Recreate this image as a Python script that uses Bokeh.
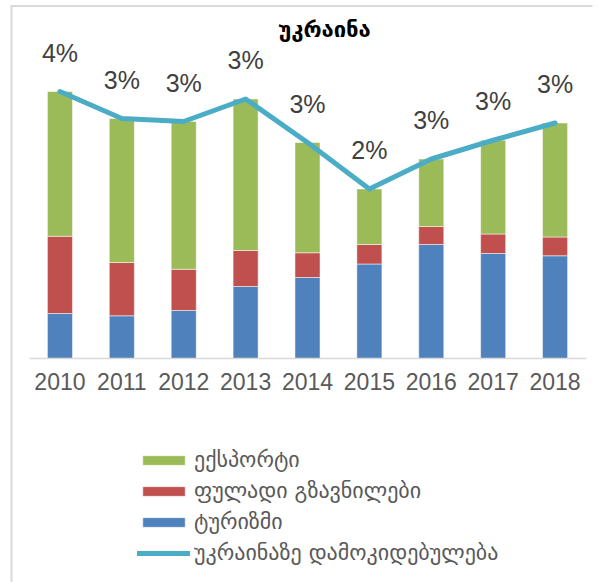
from bokeh.plotting import figure
from bokeh.models import (Range1d, Label, Legend, LegendItem, ColumnDataSource,
                          BoxAnnotation, LinearAxis, FixedTicker)
from bokeh.core.properties import value
from bokeh.embed import file_html
from bokeh.resources import INLINE

# ---- data (share of GDP, %) ----
years = ["2010", "2011", "2012", "2013", "2014", "2015", "2016", "2017", "2018"]
tourism = [0.60, 0.57, 0.64, 0.96, 1.08, 1.26, 1.52, 1.40, 1.37]
remittances = [1.03, 0.71, 0.55, 0.48, 0.33, 0.26, 0.24, 0.26, 0.25]
exports = [1.93, 1.92, 1.97, 2.02, 1.47, 0.74, 0.90, 1.25, 1.52]
pct_labels = ["4%", "3%", "3%", "3%", "3%", "2%", "3%", "3%", "3%"]

title_text = "უკრაინა"
series_names = ["ექსპორტი", "ფულადი გზავნილები", "ტურიზმი", "უკრაინაზე დამოკიდებულება"]

BLUE, RED, GREEN, CYAN = "#4F81BD", "#C0504D", "#9BBB59", "#4BACC6"

xs = list(range(len(years)))
dependence = [round(a + b + c, 2) for a, b, c in zip(tourism, remittances, exports)]

source = ColumnDataSource(dict(x=xs, tourism=tourism, remittances=remittances,
                               exports=exports, dependence=dependence, pct=pct_labels))

# ---- canvas geometry (frame covers the whole canvas) ----
W, H = 601, 582
X_UNIT = 557 / 9.0          # px per category
FIRST_CENTER = 28.5 + X_UNIT / 2
BASE_Y = 358.0              # baseline px from top
Y_UNIT = 75.0               # px per percentage point

x_start = -FIRST_CENTER / X_UNIT
x_end = x_start + W / X_UNIT
y_start = -(H - BASE_Y) / Y_UNIT
y_end = BASE_Y / Y_UNIT


def dx(px):
    return x_start + px / X_UNIT


def dy(py):
    return y_end - py / Y_UNIT


p = figure(x_range=Range1d(x_start, x_end), y_range=Range1d(y_start, y_end),
           frame_width=W, frame_height=H,
           min_border_left=0, min_border_right=0, min_border_top=0, min_border_bottom=0,
           x_axis_location=None, y_axis_location=None,
           output_backend="svg", toolbar_location=None)

p.outline_line_color = None
p.xgrid.grid_line_color = None
p.ygrid.grid_line_color = None
p.background_fill_color = "white"
p.border_fill_color = "white"

# chart-area border (top and left edges visible)
p.add_layout(BoxAnnotation(left=dx(10), right=dx(592), top=dy(4.5), bottom=dy(6.5),
                           fill_color="#D9D9D9", fill_alpha=1, line_color=None, level="underlay"))
p.add_layout(BoxAnnotation(left=dx(10), right=dx(12), top=dy(4.5), bottom=y_start,
                           fill_color="#D9D9D9", fill_alpha=1, line_color=None, level="underlay"))

ax = LinearAxis(fixed_location=0, ticker=FixedTicker(ticks=xs),
                major_label_overrides={i: y for i, y in zip(xs, years)},
                bounds=(xs[0] - 0.5, xs[-1] + 0.5))
ax.axis_line_color = "#D9D9D9"
ax.axis_line_width = 1.5
ax.major_tick_line_color = None
ax.minor_tick_line_color = None
ax.major_label_text_font = "Liberation Sans"
ax.major_label_text_font_size = "23px"
ax.major_label_text_color = "#595959"
ax.major_label_standoff = 8
p.add_layout(ax, "below")

bars = p.vbar_stack(["tourism", "remittances", "exports"], x="x", width=0.405,
                    color=[BLUE, RED, GREEN], line_color="white", line_width=0.5, source=source)

line = p.line(x="x", y="dependence", line_color=CYAN, line_width=5,
              line_join="round", line_cap="round", source=source)

p.text(x="x", y="dependence", text="pct", text_font=value("Liberation Sans"),
       text_font_size="25px", text_color="#404040", text_align="center",
       text_baseline="alphabetic", y_offset=-39, source=source)

p.add_layout(Label(x=dx(324), y=dy(29), text=title_text, text_font="DejaVu Sans",
                   text_font_style="bold", text_font_size="22px", text_color="black",
                   text_align="center", text_baseline="middle"))

legend = Legend(items=[LegendItem(label=series_names[0], renderers=[bars[2]]),
                       LegendItem(label=series_names[1], renderers=[bars[1]]),
                       LegendItem(label=series_names[2], renderers=[bars[0]]),
                       LegendItem(label=series_names[3], renderers=[line])],
                location=(137, 17), orientation="vertical",
                label_text_font="DejaVu Sans", label_text_font_size="22px",
                label_text_color="#595959", glyph_width=53, glyph_height=12,
                label_height=24, spacing=6, label_standoff=4,
                padding=0, margin=0, border_line_color=None, background_fill_alpha=0)
p.add_layout(legend)

open("out.html", "w").write(file_html(p, INLINE))
